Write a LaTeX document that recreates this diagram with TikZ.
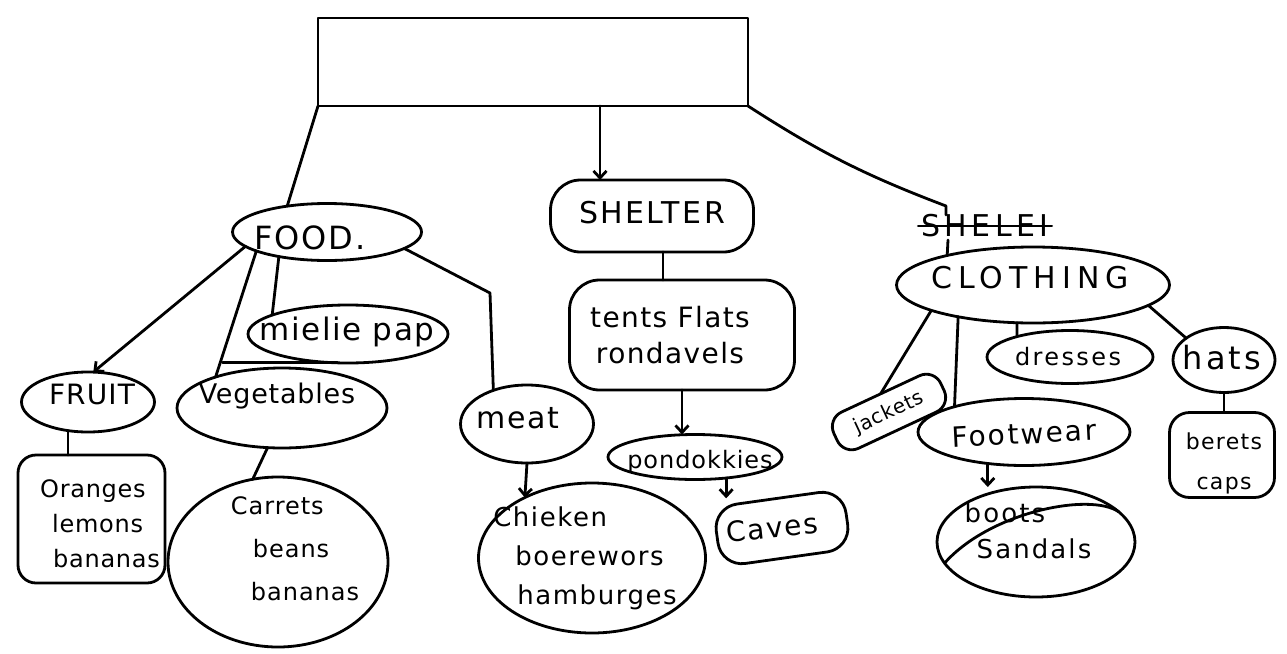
\documentclass[tikz,border=0pt]{standalone}
\usepackage{fontspec}
\setmainfont{DejaVu Sans}
\usetikzlibrary{shapes.geometric,arrows.meta}
\newcommand{\ff}[3]{\fontsize{#1}{#2}\selectfont\addfontfeature{LetterSpace=#3}}
\begin{document}
\begin{tikzpicture}[x=1pt,y=-1pt, line width=2.8pt, line cap=round, line join=round,
  every node/.style={inner sep=0pt, outer sep=0pt},
  ell/.style={draw, ellipse},
  rbox/.style={draw, rectangle, rounded corners=#1},
  rbox/.default=20pt,
  txt/.style={align=center},
  ltxt/.style={align=left},
  arr/.style={-{Straight Barb[length=7pt,width=13pt]}}]
\useasboundingbox (0,0) rectangle (1287,653);

% shapes
\node[draw, minimum width=430, minimum height=88] (top) at (533,62) {};
\node[ell, minimum width=189, minimum height=57] (food) at (327,232) {};
\node[rbox=30pt, minimum width=203, minimum height=72] (shelter) at (652,216) {};
\node[ell, minimum width=273, minimum height=76] (clothing) at (1033,285) {};
\node[ell, minimum width=200, minimum height=58] (mielie) at (348,334) {};
\node[ell, minimum width=133, minimum height=60] (fruit) at (88,402) {};
\node[ell, minimum width=210, minimum height=80] (veg) at (282,408) {};
\node[rbox=18pt, minimum width=147, minimum height=128] (oranges) at (91.5,519) {};
\node[ell, minimum width=220, minimum height=170] (carrets) at (278,562) {};
\node[ell, minimum width=133, minimum height=78] (meat) at (527,424) {};
\node[ell, minimum width=227, minimum height=150] (chicken) at (592,558) {};
\node[rbox=30pt, minimum width=225, minimum height=110] (tents) at (682,335) {};
\node[ell, minimum width=174, minimum height=45] (pond) at (695,457) {};
\node[rbox=24pt, minimum width=131, minimum height=60, rotate=8] (caves) at (782,528) {};
\node[rbox=16pt, minimum width=118, minimum height=40, rotate=25] (jackets) at (889,412) {};
\node[ell, minimum width=212, minimum height=67] (footwear) at (1024,432) {};
\node[ell, minimum width=166, minimum height=53] (dresses) at (1070,357) {};
\node[ell, minimum width=102, minimum height=65] (hats) at (1224,360) {};
\node[rbox=20pt, minimum width=105, minimum height=85] (beret) at (1222,455) {};
\node[ell, minimum width=198, minimum height=110] (boots) at (1036,542) {};

% texts
\node[txt, font=\ff{32}{32}{6}] (tfood) at (310,238) {FOOD.};
\node[txt, font=\ff{30}{30}{8}] (tshelter) at (652,213) {SHELTER};
\node[txt, font=\ff{30}{30}{20}] (tclothing) at (1030,278) {CLOTHING};
\node[txt, font=\ff{30}{30}{15}] (shelei) at (985,226) {SHELEI};
\node[txt, font=\ff{31}{31}{5}] (tmielie) at (347,332) {mielie pap};
\node[txt, font=\ff{28}{28}{4}] (tfruit) at (92,394) {FRUIT};
\node[txt, font=\ff{27}{27}{3}] (tveg) at (277,396) {Vegetables};
\node[ltxt, font=\ff{24}{35}{3}] (toranges) at (100,524) {Oranges\\\hspace*{12pt}lemons\\\hspace*{13pt}bananas};
\node[ltxt, font=\ff{24}{43}{4}] (tcarrets) at (295,549) {Carrets\\\hspace*{22pt}beans\\\hspace*{20pt}bananas};
\node[ltxt, font=\ff{26}{39}{6}] (tchicken) at (585,558) {Chieken\\\hspace*{22pt}boerewors\\\hspace*{24pt}hamburges};
\node[txt, font=\ff{28}{36}{5}] (ttents) at (670,335) {tents Flats\\rondavels};
\node[txt, font=\ff{24}{24}{4}] (tpond) at (700,462) {pondokkies};
\node[txt, rotate=6, font=\ff{28}{28}{6}] (tcaves) at (772,528) {Caves};
\node[txt, font=\ff{30}{30}{5}] (tmeat) at (518,418) {meat};
\node[txt, rotate=25, font=\ff{20}{20}{4}] (tjackets) at (889,413) {jackets};
\node[txt, rotate=3, font=\ff{28}{28}{8}] (tfootwear) at (1024,434) {Footwear};
\node[txt, font=\ff{24}{24}{10}] (tdresses) at (1068,357) {dresses};
\node[txt, font=\ff{32}{32}{10}] (thats) at (1222,358) {hats};
\node[txt, font=\ff{22}{40}{6}] (tberet) at (1224,463) {berets\\caps};
\node[ltxt, font=\ff{26}{36}{8}] (tboots) at (1028,531) {boots\\\hspace*{12pt}Sandals};

% strike-through of SHELEI
\draw ([xshift=-3pt]shelei.west) -- ([xshift=3pt]shelei.east);

% coordinates for bends
\coordinate (sb1) at (946,206);
\coordinate (sb2) at (948,240);
\coordinate (fmbend) at (490,293);

% connectors
\draw (top.south west) -- (food.147);
\draw[arr] ([xshift=-52pt]shelter.north |- top.south) -- ([xshift=-52pt]shelter.north);
\draw (top.south east) to[bend right=6] (sb1) -- ++(0,9);
\draw (sb2) -- (clothing.161);

\draw[arr] (food.190) -- (fruit.80);
\draw (food.195) -- (veg.155);
\draw (food.207) -- (mielie.166);
\draw (food.348) -- (fmbend) -- (meat.135);
\draw (mielie.250) -- ++(-115,0);

\draw (fruit.235) -- (fruit.235 |- oranges.north);
\draw (veg.250) -- (carrets.107);
\draw[arr] (meat.south) -- (chicken.138);

\draw ([xshift=11pt]shelter.south) -- ([xshift=11pt]shelter.south |- tents.north);
\draw[arr] (tents.south) -- (tents.south |- pond.north);
\draw[arr] (pond.326) -- (pond.326 |- caves.north);

\draw (clothing.194) -- (jackets.north);
\draw (clothing.203) -- (footwear.160);
\draw (clothing.247) -- (dresses.159);
\draw (clothing.350) -- (hats.150);
\draw (hats.south) -- (hats.south |- beret.north);
\draw[arr] (footwear.221) -- (footwear.221 |- boots.north);

\draw (boots.193) .. controls (990,512) and (1090,492) .. (boots.20);
\end{tikzpicture}
\end{document}
